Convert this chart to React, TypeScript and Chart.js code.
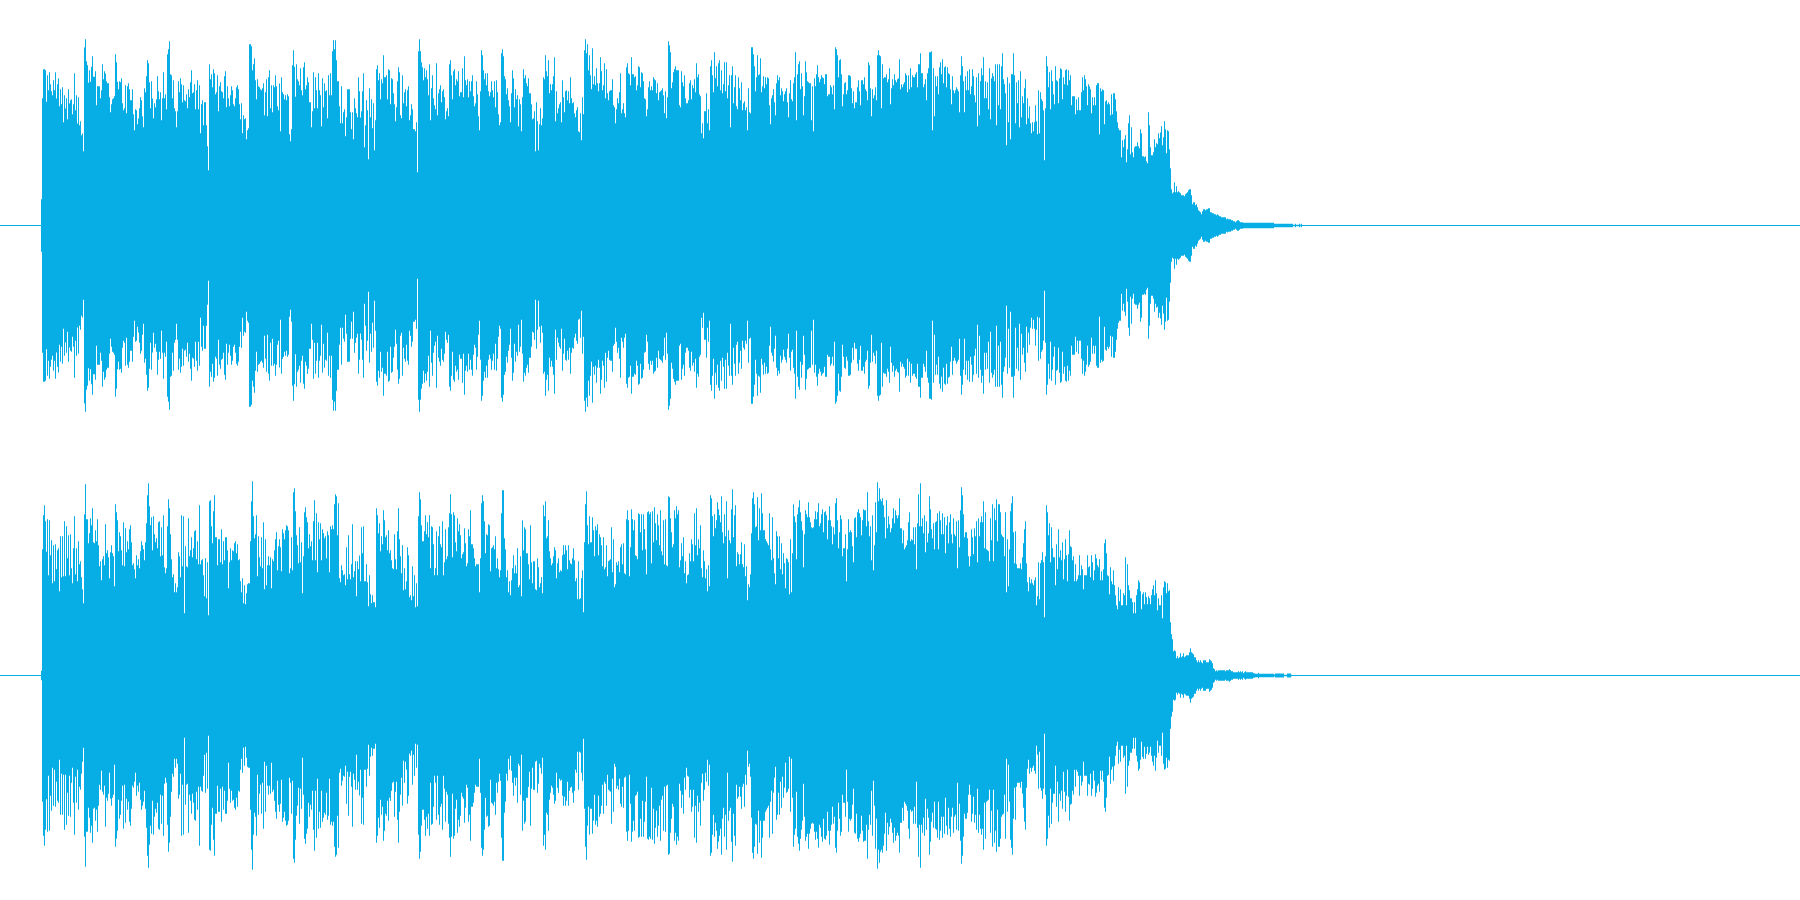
import React, { useEffect, useRef } from "react";
import { Chart, registerables } from "chart.js";

Chart.register(...registerables);

// Peak amplitude per pixel column. Full scale = 675 units.
const leftPart1 = [
79,382,469,469,466,371,451,406,460,424,403,391,436,406,460,381,424,441,358,
409,364,415,310,391,351,382,319,409,366,376,379,334,364,457,346,391,306,385,301,313,271,276,223,534,559,493,481,428,466,
431,476,508,446,446,463,361,418,418,418,382,406,484,439,463,456,433,427,427,385,340,364,379,382,388,514,490,431,409,433,
430,442,367,346,352,421,337,418,427,409,376,376,409,334,286,349,346,304,321,352,385,376,328,295,412,400,448,496,487,430,
352,433,381,322,367,355,379,448,403,379,400,316,382,460,382,394,349,514,529,553,454,451,382,436,352,343,295,343,433,400,
442,424,370,421,376,373,394,352,409,385,430,466,397,400,424,349,406,436,349,421,277,364,376,301,370,370,301,238,166,484,
439,454,415,469,457,394,400,451,343,418,430,403,400,382,448,463,355,418,382,358,391,418,406,364,358,382,415,421,409,364,
319,367,277,331,319,322,259,286,292,544,544,538,466,484,502,436,379,439,418,415,409,406,412,427,331,400,439,328,445,466,
352,421,340,421,415,451,418,358,346,426,283,445,400,394,379,391,376,394,388,274,253,289,481,526,476,386,484,439,433,421,
472,406,391,475,490,409,421,445,430,370,370,295,343,460,352,445,406,352,457,406,391,298,442,355,427,403,406,322,451,391,
457,391,523,556,529,556,496,433,433,358,307,418,307,340,349,268,325,409,409,409,340,289,340,259,382,352,337,325,445,403,
];
const leftPart2 = [
324,343,403,457,235,301,376,346,199,412,325,379,292,367,226,316,469,481,436,457,379,439,427,511,445,445,451,379,469,466,
364,442,439,397,364,313,355,433,475,460,331,322,451,367,400,409,358,406,418,316,331,364,349,289,289,283,310,160,523,559,
523,490,475,436,472,445,466,439,391,484,316,412,451,382,361,349,487,331,397,409,421,370,403,409,385,319,343,352,328,484,
496,451,379,463,469,421,439,433,463,388,400,400,472,385,508,436,421,439,385,433,403,433,451,388,358,367,433,394,328,286,
403,526,511,466,439,457,421,457,403,388,400,433,406,385,433,355,436,400,334,301,310,517,529,508,448,439,394,412,376,358,
310,397,466,442,355,409,379,391,298,379,364,283,385,469,442,451,427,418,442,397,397,364,319,322,343,223,370,313,226,304,
352,301,322,445,439,511,463,448,496,397,424,406,424,448,505,313,403,337,352,364,370,310,436,385,340,403,406,376,403,367,
445,382,367,370,337,325,346,355,283,280,337,256,385,334,526,559,517,544,466,511,451,409,532,424,448,421,472,427,403,427,
505,463,406,421,487,382,469,397,376,403,406,406,439,361,355,307,349,382,367,400,457,337,349,367,337,325,475,487,457,454,
421,505,454,454,445,448,406,421,478,475,415,460,457,433,382,379,328,349,415,433,406,418,406,445,439,436,397,427,376,400,
403,406,412,391,337,403,322,385,553,541,520,412,430,460,469,478,466,466,466,361,355,463,430,418,451,382,367,367,376,427,
];
const leftPart3 = [
436,379,421,412,439,400,487,445,454,394,388,277,307,262,343,343,397,307,349,286,478,496,451,400,520,442,478,418,487,496,
406,466,397,424,490,403,490,382,421,451,295,451,478,367,415,451,358,349,445,412,376,430,346,367,373,346,355,286,412,340,
337,535,535,514,478,403,445,511,451,454,502,400,418,448,412,445,424,445,442,361,304,382,391,409,370,331,427,451,436,445,
391,412,403,373,394,403,412,370,325,397,436,379,373,427,445,520,316,454,484,493,409,457,418,331,388,493,460,433,430,427,
427,316,418,283,442,418,454,481,445,430,439,451,445,442,424,454,454,388,394,394,421,415,394,421,349,535,529,511,445,496,
499,454,358,394,427,430,394,406,451,451,448,412,367,403,352,370,370,415,436,403,361,436,436,424,445,409,403,376,490,481,
412,328,409,382,391,415,376,511,526,511,508,352,484,442,445,445,454,430,439,472,364,412,439,421,454,436,430,439,442,499,
409,424,415,424,430,457,451,400,451,409,472,415,451,445,445,454,460,415,484,484,517,457,457,415,424,439,376,457,472,520,
520,523,286,472,328,448,418,448,394,475,490,454,499,427,475,478,415,475,457,454,409,364,448,406,397,406,415,409,403,340,
451,508,478,433,340,448,406,463,406,469,394,418,469,448,391,370,445,298,457,331,433,472,451,505,382,433,382,430,349,472,
319,442,457,448,433,484,301,484,361,484,349,478,517,439,424,397,241,445,310,427,259,454,454,517,451,307,430,367,436,295,
];
const leftPart4 = [
463,325,388,367,412,439,304,382,322,358,307,277,310,283,310,361,313,274,406,277,400,379,373,346,196,352,508,478,415,460,
349,466,433,394,364,478,436,433,367,442,472,469,379,445,424,466,469,421,466,436,451,361,388,388,388,334,379,346,385,346,
346,400,445,406,451,439,418,361,424,418,409,337,385,361,385,361,421,427,427,274,412,403,409,406,304,373,376,364,370,364,
331,394,334,397,397,379,343,310,292,286,286,205,256,235,259,271,190,229,307,331,214,295,220,205,235,238,238,250,238,232,
289,277,208,208,205,208,193,187,340,301,235,211,211,220,259,235,247,244,277,262,279,298,241,265,313,289,217,286,283,229,
172,109,97,100,130,100,118,100,103,100,97,91,91,91,88,94,97,100,106,109,109,91,64,70,70,61,64,55,46,43,
40,34,43,49,49,46,49,49,52,52,40,40,37,37,34,34,31,34,31,28,28,25,25,25,25,25,19,21,19,19,
19,16,16,13,13,10,13,16,16,13,10,10,10,8,8,8,8,8,8,8,8,8,8,8,8,8,8,8,8,8,
8,8,8,8,8,8,8,8,8,8,8,8,8,8,5,5,5,5,5,5,5,5,5,5,5,5,5,5,5,5,
5,5,5,2,2,5,2,2,2,5,2,5,
];

const rightPart1 = [
14,379,481,511,463,371,469,301,466,361,406,277,391,283,394,319,376,382,253,
418,295,418,298,463,298,448,352,421,301,424,322,277,382,478,304,382,283,403,334,343,295,259,217,484,574,469,469,397,427,
472,451,502,400,397,436,403,469,391,328,343,286,349,358,331,454,367,376,355,292,370,391,367,358,268,514,490,466,373,430,
418,376,331,460,328,442,370,403,379,439,451,400,331,337,319,292,361,331,349,322,373,403,391,379,346,400,457,541,577,508,
451,475,376,478,424,400,412,382,460,463,358,445,361,481,325,307,322,448,529,502,424,349,295,304,250,277,250,265,370,358,
295,481,328,478,187,388,328,325,472,358,376,415,355,382,433,436,349,403,334,511,334,346,349,301,238,352,232,340,181,523,
526,448,397,493,541,415,415,331,409,409,340,439,334,403,346,415,415,376,262,340,382,346,376,373,397,403,367,394,346,349,
283,250,292,217,271,214,247,274,277,277,403,523,583,478,412,424,481,298,418,355,328,415,322,460,259,409,271,331,358,331,
355,262,349,343,376,409,430,316,388,409,385,313,439,427,409,436,451,448,436,307,322,415,316,550,562,493,421,391,337,445,
340,400,247,358,490,505,475,460,382,424,388,403,346,463,526,346,487,310,460,409,457,346,439,427,412,418,352,433,421,310,
448,439,451,439,514,544,538,421,517,292,280,331,316,301,304,271,385,289,421,304,289,334,454,295,313,343,238,343,319,360,
];
const rightPart2 = [
283,445,367,448,283,283,334,280,208,301,244,217,241,220,220,205,502,481,427,457,373,418,394,496,466,415,421,376,436,367,
376,346,322,319,424,349,319,433,502,409,358,307,391,256,322,259,283,385,361,235,241,226,328,238,301,205,277,208,478,550,
529,451,403,403,433,481,424,460,415,481,322,448,445,394,301,322,433,301,418,448,394,385,463,301,340,439,349,358,445,487,
544,484,355,490,481,400,373,472,433,454,421,352,364,370,442,397,328,337,439,418,496,394,394,382,352,328,334,334,334,250,
352,517,541,523,463,367,424,421,454,451,313,382,385,391,379,418,322,352,319,295,316,487,556,556,412,379,295,316,250,283,
241,286,322,361,307,331,307,382,265,271,358,238,466,376,445,439,367,367,334,289,451,340,277,343,343,259,256,352,325,265,
277,295,247,511,478,523,412,418,466,373,352,331,337,358,385,376,292,337,352,310,316,313,361,391,364,391,376,319,391,346,
337,334,352,382,346,283,292,229,343,229,232,292,316,190,400,514,553,451,394,478,400,400,475,436,358,448,436,454,361,424,
415,391,328,415,319,325,391,298,343,346,349,445,310,409,265,274,340,331,343,310,385,394,334,397,307,304,469,496,466,298,
385,499,469,436,466,361,358,349,487,484,430,484,376,484,439,379,304,490,493,484,490,337,493,400,505,457,406,484,451,391,
496,373,361,466,334,469,331,328,538,535,472,430,385,394,496,472,508,484,496,325,346,397,358,415,307,343,277,301,304,367,
];
const rightPart3 = [
343,409,394,343,487,391,502,361,409,382,451,322,295,376,343,292,319,253,331,268,541,532,478,418,484,442,466,520,499,481,
460,538,430,397,484,418,523,292,436,406,397,499,559,415,481,511,328,370,364,334,364,400,334,325,394,298,328,226,274,265,
304,427,532,550,514,445,448,535,406,502,436,547,487,436,436,409,403,397,391,487,379,346,475,352,307,274,433,418,352,418,
319,397,304,367,337,262,352,349,340,244,409,250,367,514,478,460,349,484,505,526,490,463,436,325,424,496,484,475,520,475,
460,445,442,445,469,493,469,490,517,448,457,484,499,430,490,493,481,409,466,508,466,448,394,445,424,517,532,466,382,430,
481,469,358,382,382,424,283,379,469,430,436,430,388,340,472,475,415,490,499,487,475,421,466,499,496,496,448,550,463,418,
448,346,481,316,391,520,430,580,523,562,529,523,532,511,475,412,526,442,478,454,430,442,472,502,457,496,481,472,481,532,
442,442,397,436,379,385,391,406,460,490,403,409,406,445,394,445,319,457,544,448,577,448,472,427,481,370,463,400,427,538,
499,439,412,457,379,460,463,487,379,493,466,424,487,424,475,367,451,478,397,460,484,424,397,472,424,418,463,322,466,385,
496,565,541,484,415,430,430,412,358,328,358,439,415,364,442,418,463,340,472,418,460,478,460,523,382,490,379,376,373,343,
472,406,514,343,502,466,529,403,514,514,490,424,418,415,358,490,250,409,268,379,493,517,538,430,337,433,334,322,322,322,
];
const rightPart4 = [
337,319,355,397,439,463,337,280,253,295,277,289,277,271,286,295,211,238,340,229,337,346,370,340,175,358,511,490,421,457,
340,445,382,355,355,271,394,319,439,355,376,346,400,289,349,409,361,283,364,436,388,385,346,358,283,334,283,289,301,361,
301,331,319,259,301,301,301,361,325,328,295,361,340,286,316,364,352,331,325,349,286,313,286,319,397,409,367,301,298,244,
325,283,274,316,271,241,211,199,265,223,259,211,211,247,241,355,211,334,271,256,232,232,220,187,220,187,241,259,286,280,
253,199,244,250,214,250,235,214,238,232,214,241,259,271,241,286,247,196,232,211,211,241,172,265,283,280,247,277,253,256,
160,124,109,73,76,73,52,58,52,55,67,55,58,67,55,58,61,61,61,70,82,70,67,64,55,55,46,40,46,40,
46,40,37,46,46,46,40,40,40,49,46,43,37,22,19,13,16,13,16,16,16,16,16,16,16,13,16,16,16,19,
16,13,13,10,10,10,10,10,13,10,13,10,13,7,10,13,10,10,10,10,10,10,10,7,7,5,5,5,8,5,
5,5,5,5,5,5,5,5,5,5,5,5,5,5,3,6,6,6,6,6,6,6,6,6,2,2,2,6,6,6,
6,2,
];

const leftPeaks = [...leftPart1, ...leftPart2, ...leftPart3, ...leftPart4];
const rightPeaks = [...rightPart1, ...rightPart2, ...rightPart3, ...rightPart4];

const FIRST_COLUMN = 41;
const TOTAL_COLUMNS = 1800;
const WAVE_COLOR = "#07AEE5";

function envelope(peaks: number[], sign: number) {
  const pts = peaks.map((p, i) => ({ x: FIRST_COLUMN + i, y: sign * p }));
  pts.push({ x: FIRST_COLUMN + peaks.length, y: 0 });
  return pts;
}

function Channel({ peaks }: { peaks: number[] }) {
  const ref = useRef<HTMLCanvasElement | null>(null);

  useEffect(() => {
    document.body.style.margin = "0";
    document.body.style.background = "#ffffff";
    const chart = new Chart(ref.current as HTMLCanvasElement, {
      type: "line",
      data: {
        datasets: [
          {
            data: envelope(peaks, 1),
            stepped: "before",
            borderWidth: 0,
            pointRadius: 0,
            backgroundColor: WAVE_COLOR,
            fill: "+1",
          },
          {
            data: envelope(peaks, -1),
            stepped: "before",
            borderWidth: 0,
            pointRadius: 0,
            fill: false,
          },
          {
            data: [
              { x: 0, y: 0 },
              { x: TOTAL_COLUMNS, y: 0 },
            ],
            borderColor: WAVE_COLOR,
            borderWidth: 1,
            pointRadius: 0,
            fill: false,
          },
        ],
      } as any,
      options: {
        animation: false,
        responsive: false,
        devicePixelRatio: 1,
        events: [],
        layout: { padding: 0 },
        plugins: { legend: { display: false }, tooltip: { enabled: false }, title: { display: false } },
        scales: {
          x: { type: "linear", min: 0, max: TOTAL_COLUMNS, display: false },
          y: { type: "linear", min: -673.5, max: 676.5, display: false },
        },
      } as any,
    });
    return () => chart.destroy();
  }, [peaks]);

  return <canvas ref={ref} width={1800} height={450} style={{ display: "block", width: 1800, height: 450 }} />;
}

export default function App() {
  return (
    <div style={{ width: 1800, height: 900, background: "#ffffff" }}>
      <Channel peaks={leftPeaks} />
      <Channel peaks={rightPeaks} />
    </div>
  );
}
